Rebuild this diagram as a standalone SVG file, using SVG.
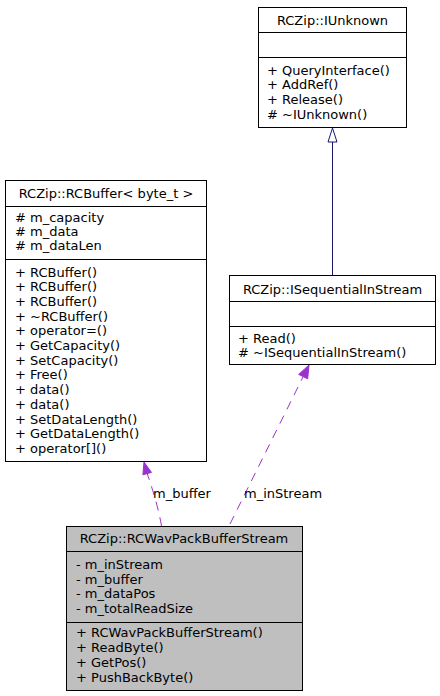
<svg xmlns="http://www.w3.org/2000/svg" width="440" height="696" viewBox="0 0 440 696">
<style>
text{font-family:"DejaVu Sans","Liberation Sans",sans-serif;font-size:13px;fill:#000}
.t{text-anchor:middle}
.box{fill:#fff;stroke:#000;stroke-width:1}
.cur{fill:#bfbfbf;stroke:#000;stroke-width:1}
.div{stroke:#000;stroke-width:1}
.inh{stroke:#191970;stroke-width:1;fill:none}
.use{stroke:#9a32cd;stroke-width:1;fill:none;stroke-dasharray:9,7}
.uh{fill:#9a32cd;stroke:#9a32cd;stroke-width:1}
</style>
<rect width="440" height="696" fill="#fff"/>
<g id="connectors">
  <line class="inh" x1="332.5" y1="275" x2="332.5" y2="142"/>
  <polygon points="332.5,128 328,142 337,142" fill="#fff" stroke="#191970" stroke-width="1"/>
  <path class="use" d="M161.5,526 Q158,505 147.2,473.6"/>
  <polygon class="uh" points="144,462 151.5,472.4 142.9,474.8"/>
  <text x="153" y="498">m_buffer</text>
  <path class="use" d="M230,524 L303.2,376.6"/>
  <polygon class="uh" points="309,365 307.7,378.8 298.7,374.4"/>
  <text x="244" y="498">m_inStream</text>
</g>
<g id="IUnknown">
  <rect class="box" x="258.5" y="7.5" width="148" height="120"/>
  <line class="div" x1="258.5" y1="32.5" x2="406.5" y2="32.5"/>
  <line class="div" x1="258.5" y1="57.5" x2="406.5" y2="57.5"/>
  <text class="t" x="332.5" y="24.5">RCZip::IUnknown</text>
  <text x="267" y="74.5">+ QueryInterface()</text>
  <text x="267" y="89.2">+ AddRef()</text>
  <text x="267" y="103.9">+ Release()</text>
  <text x="267" y="118.6"># ~IUnknown()</text>
</g>
<g id="ISequentialInStream">
  <rect class="box" x="229.5" y="275.5" width="206" height="89"/>
  <line class="div" x1="229.5" y1="301.5" x2="435.5" y2="301.5"/>
  <line class="div" x1="229.5" y1="326.5" x2="435.5" y2="326.5"/>
  <text class="t" x="332.5" y="293.5">RCZip::ISequentialInStream</text>
  <text x="238" y="342.5">+ Read()</text>
  <text x="238" y="357"># ~ISequentialInStream()</text>
</g>
<g id="RCBuffer">
  <rect class="box" x="5.5" y="180.5" width="201" height="281"/>
  <line class="div" x1="5.5" y1="206.5" x2="206.5" y2="206.5"/>
  <line class="div" x1="5.5" y1="259.5" x2="206.5" y2="259.5"/>
  <text class="t" x="106" y="198">RCZip::RCBuffer&lt; byte_t &gt;</text>
  <text x="15" y="221.5"># m_capacity</text>
  <text x="15" y="235.5"># m_data</text>
  <text x="15" y="249.5"># m_dataLen</text>
  <text x="15" y="276.5">+ RCBuffer()</text>
  <text x="15" y="291.2">+ RCBuffer()</text>
  <text x="15" y="305.9">+ RCBuffer()</text>
  <text x="15" y="320.6">+ ~RCBuffer()</text>
  <text x="15" y="335.3">+ operator=()</text>
  <text x="15" y="350">+ GetCapacity()</text>
  <text x="15" y="364.7">+ SetCapacity()</text>
  <text x="15" y="379.4">+ Free()</text>
  <text x="15" y="394.1">+ data()</text>
  <text x="15" y="408.8">+ data()</text>
  <text x="15" y="423.5">+ SetDataLength()</text>
  <text x="15" y="438.2">+ GetDataLength()</text>
  <text x="15" y="452.9">+ operator[]()</text>
</g>
<g id="RCWavPackBufferStream">
  <rect class="cur" x="66.5" y="526.5" width="236" height="164"/>
  <line class="div" x1="66.5" y1="551.5" x2="302.5" y2="551.5"/>
  <line class="div" x1="66.5" y1="622.5" x2="302.5" y2="622.5"/>
  <text class="t" x="184" y="543">RCZip::RCWavPackBufferStream</text>
  <text x="76" y="569">- m_inStream</text>
  <text x="76" y="583.5">- m_buffer</text>
  <text x="76" y="598">- m_dataPos</text>
  <text x="76" y="612.5">- m_totalReadSize</text>
  <text x="76" y="637">+ RCWavPackBufferStream()</text>
  <text x="76" y="652">+ ReadByte()</text>
  <text x="76" y="666.5">+ GetPos()</text>
  <text x="76" y="681.5">+ PushBackByte()</text>
</g>
</svg>
